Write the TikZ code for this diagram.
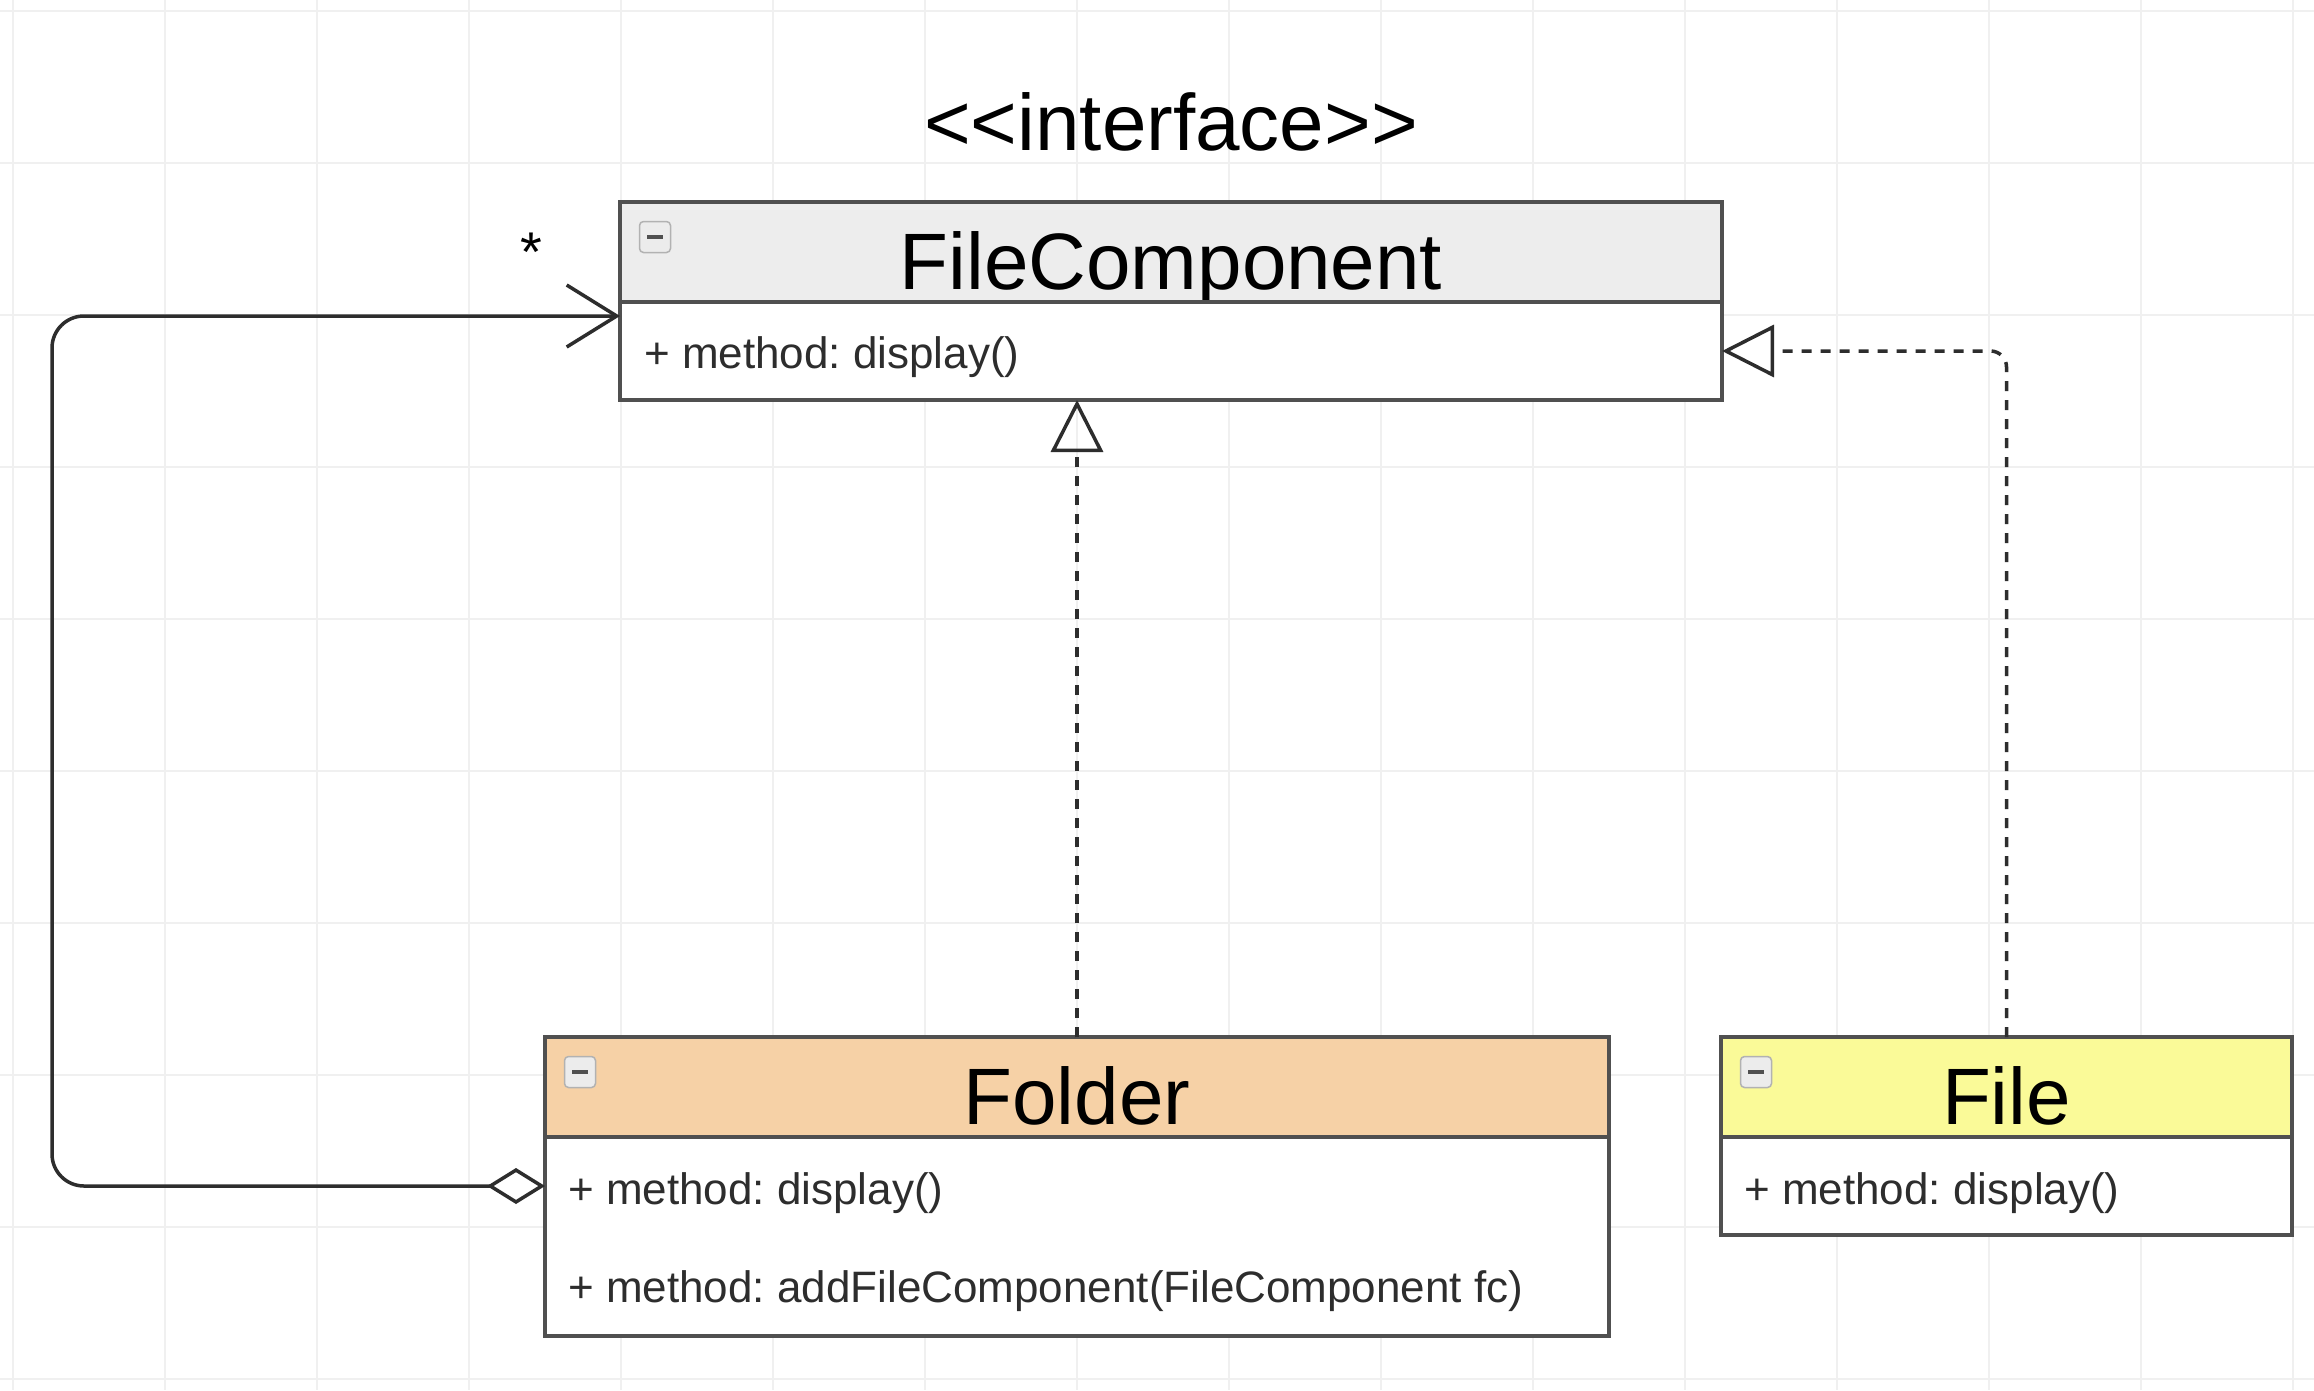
\documentclass[tikz,border=0pt]{standalone}
\usepackage{fontspec}
\setmainfont{Liberation Sans}[Ligatures=TeXOff]
\usetikzlibrary{positioning,arrows.meta}
\definecolor{headgray}{RGB}{237,237,237}
\definecolor{folderorange}{RGB}{246,209,166}
\definecolor{fileyellow}{RGB}{250,250,152}
\definecolor{boxline}{RGB}{80,80,80}
\definecolor{linkgray}{RGB}{45,45,45}
\definecolor{methodtext}{RGB}{45,45,45}
\definecolor{gridgray}{RGB}{240,240,240}
\definecolor{minusdark}{RGB}{80,80,80}
\frenchspacing

\begin{document}
\begin{tikzpicture}[x=1pt,y=-1pt,
  classhead/.style={draw=boxline,line width=3.2pt,outer sep=0pt,inner sep=0pt,
    text height=74pt,text depth=0pt,minimum height=100pt,
    font=\fontsize{80}{90}\selectfont},
  classbody/.style={draw=boxline,line width=3.2pt,fill=white,outer sep=0pt,inner sep=0pt},
  method/.style={anchor=base west,inner sep=0pt,text=methodtext,
    font=\fontsize{44}{50}\selectfont},
  minusbox/.style={draw=gray!60,fill=gray!15,rounded corners=4pt,line width=1.5pt,
    minimum size=31pt,inner sep=0pt},
  link/.style={draw=linkgray,line width=3.5pt},
  realize/.style={link,dash pattern=on 10pt off 9pt,
    -{Triangle[open,length=52pt,width=52pt]}}]

\useasboundingbox (0,0) rectangle (2314,1390);
\fill[white] (0,0) rectangle (2314,1390);
% background grid
\foreach \i in {0,...,15}
  \draw[gridgray,line width=1.8pt] (13+152*\i,0) -- ++(0,1390);
\foreach \j in {0,...,9}
  \draw[gridgray,line width=1.8pt] (0,11+152*\j) -- ++(2314,0);

% classes
\node[anchor=base,font=\fontsize{80}{90}\selectfont] (stereo) at (1171,150) {<<interface>>};
\node[classhead,fill=headgray,minimum width=1102pt,anchor=north west] (fcHead) at (620,202) {FileComponent};
\node[classbody,minimum width=1102pt,minimum height=98pt,below=0pt of fcHead] (fcBody) {};
\node[method] (fcM1) at ([xshift=24pt,yshift=-66pt]fcBody.north west) {+ method: display()};

\node[classhead,fill=folderorange,minimum width=1064pt,anchor=north west] (folderHead) at (545,1037) {Folder};
\node[classbody,minimum width=1064pt,minimum height=199pt,below=0pt of folderHead] (folderBody) {};
\node[method] (folderM1) at ([xshift=23pt,yshift=-67pt]folderBody.north west) {+ method: display()};
\node[method] (folderM2) at ([xshift=23pt,yshift=-165pt]folderBody.north west) {+ method: addFileComponent(FileComponent fc)};

\node[classhead,fill=fileyellow,minimum width=571pt,anchor=north west] (fileHead) at (1721,1037) {File};
\node[classbody,minimum width=571pt,minimum height=98pt,below=0pt of fileHead] (fileBody) {};
\node[method] (fileM1) at ([xshift=23pt,yshift=-67pt]fileBody.north west) {+ method: display()};

% collapse buttons
\foreach \c in {fcHead,folderHead,fileHead}
  \node[minusbox] (\c Minus) at ([xshift=35pt,yshift=-35pt]\c.north west) {\color{minusdark}\rule{16pt}{4pt}};

% connectors
\node[anchor=base,font=\fontsize{56}{60}\selectfont] (many) at (531,271) {*};
\coordinate (aggFrom) at ([yshift=-49pt]folderBody.north west);
\coordinate (aggTo) at ([yshift=-14pt]fcBody.north west);
\coordinate (loopLeft) at (52,0);
\draw[link,rounded corners=32pt,{Diamond[open,length=58pt,width=36pt]}-{Straight Barb[length=50pt,width=62pt]}]
  (aggFrom) -- (aggFrom -| loopLeft) -- (aggTo -| loopLeft) -- (aggTo);
\draw[realize] (folderHead.north) -- (folderHead.north |- fcBody.south);
\draw[realize,rounded corners=16pt] (fileHead.north) |- (fcBody.east);

\end{tikzpicture}
\end{document}
